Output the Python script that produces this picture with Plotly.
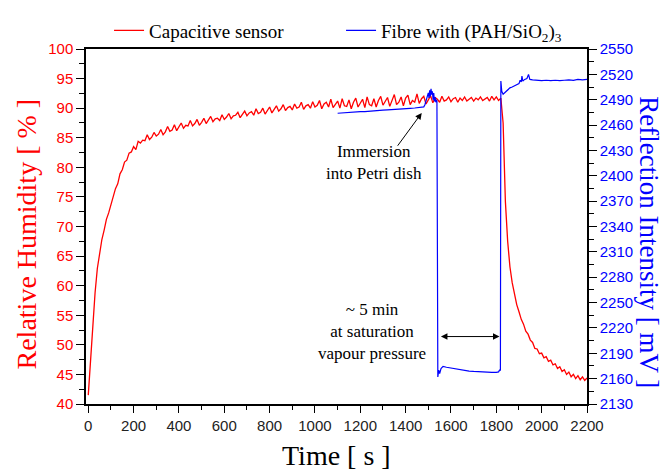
import plotly.graph_objects as go

# ---------------- data ----------------
rh_t = list(range(0, 2201, 10))
rh_v = [
    41.5, 47.2, 53.6, 58.8, 62.9, 65.7, 67.8, 69.4, 71.2, 72.3,
    73.6, 74.8, 76.4, 77.2, 78.9, 79.6, 80.9, 81.2, 82.4, 82.6,
    83.5, 83.0, 84.4, 84.1, 84.6, 84.5, 85.5, 84.7, 85.1, 85.9,
    85.3, 85.6, 86.4, 85.5, 86.0, 86.9, 86.1, 86.3, 87.2, 86.2,
    86.8, 87.5, 86.6, 87.1, 87.0, 87.9, 87.0, 87.4, 88.1, 87.1,
    87.6, 88.3, 87.4, 88.0, 88.6, 87.7, 88.2, 88.3, 87.9, 88.9,
    88.1, 88.5, 89.1, 88.2, 88.7, 88.8, 89.3, 88.4, 88.9, 89.5,
    88.7, 89.2, 89.4, 88.8, 89.9, 89.1, 89.3, 90.0, 89.0, 89.6,
    90.2, 89.2, 89.8, 90.4, 89.5, 89.9, 90.6, 89.6, 90.1, 90.3,
    89.7, 90.7, 90.0, 90.2, 91.0, 89.8, 90.4, 90.6, 90.0, 91.1,
    90.2, 90.5, 91.3, 89.9, 90.7, 91.0, 90.2, 91.5, 90.1, 90.6,
    91.2, 90.0, 91.6, 90.4, 90.3, 91.4, 89.9, 91.0, 91.7, 90.2,
    90.8, 91.5, 90.1, 91.9, 90.6, 90.4, 91.6, 90.2, 91.3, 92.0,
    90.5, 91.1, 91.8, 90.3, 91.5, 92.3, 90.6, 91.0, 91.9, 90.4,
    91.7, 92.2, 90.6, 91.3, 91.0, 92.4, 90.8, 91.6, 92.0, 90.7,
    91.4, 92.1, 90.9, 91.8, 91.5, 91.0, 92.0, 91.2, 91.4, 91.9,
    91.1, 91.6, 91.8, 91.0, 91.7, 91.3, 91.9, 91.2, 91.5, 91.8,
    91.2, 91.7, 91.4, 91.9, 91.3, 91.6, 91.8, 91.2, 92.0, 91.4,
    91.9, 91.3, 91.7, 87.5, 74.2, 67.5, 63.2, 60.5, 58.3, 56.8,
    55.6, 54.3, 53.5, 52.3, 51.8, 50.8, 50.4, 49.4, 49.3, 48.5,
    48.6, 47.8, 48.0, 47.2, 47.4, 46.6, 46.8, 46.0, 46.3, 45.5,
    45.8, 45.0, 45.4, 44.6, 45.0, 44.3, 44.8, 44.1, 44.6, 44.0,
    44.4,
]

ri_t = [1100, 1120, 1140, 1160, 1180, 1200, 1220, 1240, 1260, 1280,
        1300, 1320, 1340, 1360, 1380, 1400, 1420, 1440, 1460, 1480,
        1485, 1490, 1495, 1500, 1503, 1506, 1509, 1512, 1515, 1518,
        1521, 1524, 1527, 1530, 1533, 1536, 1538, 1540, 1542, 1546,
        1550, 1556, 1565, 1580, 1600, 1620, 1640, 1660, 1680, 1700,
        1720, 1740, 1760, 1780, 1800, 1810, 1814, 1818, 1820, 1824,
        1830, 1840, 1850, 1860, 1870, 1880, 1890, 1900, 1905, 1910,
        1913, 1917, 1925, 1935, 1942, 1948, 1960, 1980, 2000, 2020,
        2040, 2060, 2080, 2100, 2120, 2140, 2160, 2180, 2200]
ri_v = [2474.0, 2474.5, 2474.2, 2475.0, 2475.3, 2475.8, 2476.0, 2476.6, 2476.8, 2477.3,
        2477.6, 2478.0, 2478.2, 2478.7, 2479.0, 2479.5, 2479.8, 2480.2, 2480.6, 2481.5,
        2484.0, 2488.0, 2494.0, 2498.0, 2492.0, 2501.0, 2494.0, 2503.0, 2496.0, 2500.0,
        2490.0, 2498.0, 2488.0, 2493.0, 2487.0, 2490.0, 2488.0, 2165.0, 2162.0, 2170.0,
        2166.0, 2172.0, 2174.5, 2173.5, 2172.5, 2171.5, 2170.5, 2169.8, 2169.0, 2168.5,
        2168.0, 2167.5, 2167.2, 2167.3, 2167.5, 2168.0, 2170.0, 2170.0, 2512.0, 2500.0,
        2496.5, 2499.0, 2502.0, 2504.0, 2505.0, 2506.5, 2507.0, 2509.0, 2513.0, 2511.0,
        2518.0, 2512.0, 2514.0, 2515.0, 2520.0, 2514.0, 2513.5, 2513.0, 2512.5, 2513.0,
        2512.5, 2513.0, 2512.5, 2513.0, 2513.5, 2513.0, 2514.0, 2513.5, 2514.0]

x_range = [-10, 2200]
rh_range = [40, 100]
ri_range = [2130, 2550]

RED = "#ff0000"
BLUE = "#0000ff"
SERIF = "Liberation Serif"
SANS = "Liberation Sans"

fig = go.Figure()
fig.add_trace(go.Scatter(x=rh_t, y=rh_v, mode="lines", name="Capacitive sensor",
                         line=dict(color=RED, width=1.3), yaxis="y"))
fig.add_trace(go.Scatter(x=ri_t, y=ri_v, mode="lines",
                         name="Fibre with (PAH/SiO<sub>2</sub>)<sub>3</sub>",
                         line=dict(color=BLUE, width=1.2), yaxis="y2"))

axis_common = dict(showgrid=False, zeroline=False, showline=True, linecolor="black",
                   linewidth=1.5, ticks="outside", tickcolor="black", tickwidth=1.2)

fig.update_layout(
    width=664, height=472,
    margin=dict(l=86, r=77, t=37, b=68),
    plot_bgcolor="white", paper_bgcolor="white",
    showlegend=True,
    legend=dict(orientation="h", x=0.046, xanchor="left", y=1.052, yanchor="middle",
                font=dict(family=SERIF, size=19, color="black"),
                bgcolor="rgba(0,0,0,0)", entrywidth=187, entrywidthmode="pixels",
                itemclick=False),
    xaxis=dict(range=x_range, dtick=200, tick0=0, ticklen=7, mirror=True,
               tickfont=dict(family=SANS, size=15, color="#222222"),
               minor=dict(dtick=100, ticklen=4, ticks="outside", tickcolor="black"),
               **axis_common),
    xaxis2=dict(range=x_range, overlaying="x", side="top", showgrid=False, zeroline=False,
                showline=False, ticks="inside", tickvals=list(range(100, 2200, 100)),
                ticklen=4, tickcolor="black", showticklabels=False),
    yaxis=dict(range=rh_range, dtick=5, tick0=40, ticklen=8,
               tickfont=dict(family=SANS, size=15, color=RED),
               minor=dict(dtick=2.5, ticklen=5, ticks="outside", tickcolor="black"),
               **axis_common),
    yaxis2=dict(range=ri_range, dtick=30, tick0=2130, ticklen=8, side="right",
                overlaying="y",
                tickfont=dict(family=SANS, size=15, color=BLUE),
                minor=dict(dtick=15, ticklen=5, ticks="outside", tickcolor="black"),
                **axis_common),
)

# axis titles
fig.add_annotation(text="Time [ s ]", xref="paper", yref="paper", x=0.5, y=-0.145,
                   xanchor="center", yanchor="middle", showarrow=False,
                   font=dict(family=SERIF, size=28, color="black"))
fig.add_annotation(text="Relative Humidity [ % ]", xref="paper", yref="paper",
                   x=-0.118, y=0.48, xanchor="center", yanchor="middle", textangle=-90,
                   showarrow=False, font=dict(family=SERIF, size=28, color=RED))
fig.add_annotation(text="Reflection Intensity [ mV ]", xref="paper", yref="paper",
                   x=1.122, y=0.455, xanchor="center", yanchor="middle", textangle=90,
                   showarrow=False, font=dict(family=SERIF, size=27, color=BLUE))

# in-plot annotations
fig.add_annotation(text="Immersion<br>into Petri dish", x=1260, y=80.8, xref="x", yref="y",
                   showarrow=False, font=dict(family=SERIF, size=17, color="black"))
fig.add_annotation(text="", x=1471, y=89.2, ax=1360, ay=83.4, xref="x", yref="y",
                   axref="x", ayref="y", showarrow=True, arrowhead=2, arrowsize=1.3,
                   arrowwidth=1, arrowcolor="black")
fig.add_annotation(text="~ 5 min<br>at saturation<br>vapour pressure", x=1252, y=52.3,
                   xref="x", yref="y", showarrow=False,
                   font=dict(family=SERIF, size=17, color="black"))
fig.add_annotation(text="", x=1814, y=51.4, ax=1549, ay=51.4, xref="x", yref="y",
                   axref="x", ayref="y", showarrow=True, arrowhead=2, arrowsize=1.3,
                   arrowside="end+start", arrowwidth=1, arrowcolor="black")

fig.write_html("out.html")
